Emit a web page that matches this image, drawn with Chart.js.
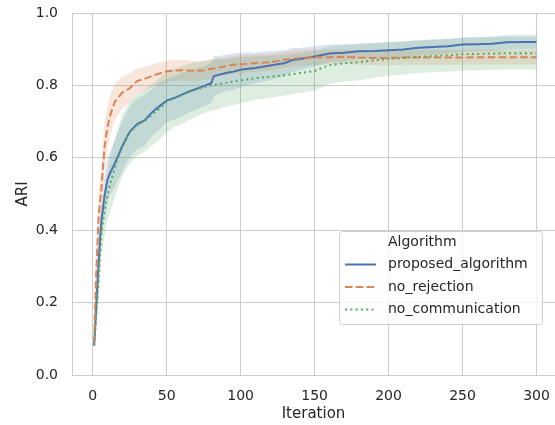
<!DOCTYPE html>
<html lang="en">
<head>
    <meta charset="UTF-8">
    <title>ARI per Iteration</title>
    <script src="https://cdn.jsdelivr.net/npm/chart.js"></script>
    <style>
        html, body { margin: 0; padding: 0; background: #fff; overflow: hidden; }
        canvas { display: block; }
    </style>
</head>
<body>
    <canvas id="ariChart" width="555" height="425"></canvas>

    <script>
        // Iterations sampled from the plot
        const iterations = [1,2,3,4,5,6,8,10,12,15,20,25,30,35,40,45,50,55,60,65,70,75,80,82,85,90,95,100,105,110,120,130,135,140,150,160,170,180,190,200,210,220,230,240,250,260,270,280,290,300];

        // mean ARI per algorithm
        const proposedMean = [0.083,0.16,0.24,0.31,0.38,0.43,0.495,0.54,0.56,0.585,0.632,0.672,0.693,0.703,0.725,0.742,0.758,0.765,0.774,0.783,0.79,0.798,0.806,0.826,0.829,0.834,0.838,0.843,0.846,0.848,0.855,0.862,0.87,0.873,0.88,0.888,0.89,0.894,0.895,0.897,0.899,0.904,0.906,0.908,0.913,0.914,0.915,0.919,0.92,0.92];
        const noRejectionMean = [0.09,0.24,0.34,0.44,0.48,0.52,0.63,0.686,0.72,0.755,0.78,0.792,0.812,0.818,0.826,0.833,0.839,0.841,0.842,0.841,0.84,0.842,0.846,0.847,0.849,0.853,0.857,0.858,0.86,0.862,0.864,0.871,0.874,0.876,0.878,0.878,0.879,0.877,0.876,0.876,0.877,0.877,0.877,0.877,0.877,0.878,0.878,0.878,0.878,0.878];
        const noCommunicationMean = [0.08,0.14,0.2,0.26,0.33,0.395,0.45,0.495,0.53,0.572,0.635,0.67,0.69,0.702,0.718,0.735,0.755,0.765,0.773,0.782,0.789,0.795,0.8,0.801,0.803,0.807,0.811,0.814,0.817,0.82,0.824,0.828,0.831,0.834,0.84,0.856,0.861,0.864,0.869,0.873,0.876,0.879,0.881,0.883,0.886,0.887,0.888,0.889,0.889,0.889];

        // half width of the confidence band
        const proposedCi = [0.01,0.03,0.04,0.045,0.05,0.05,0.055,0.06,0.06,0.065,0.07,0.07,0.07,0.07,0.065,0.065,0.06,0.06,0.06,0.058,0.057,0.055,0.055,0.055,0.052,0.05,0.05,0.048,0.045,0.042,0.04,0.035,0.033,0.03,0.028,0.025,0.024,0.022,0.022,0.022,0.022,0.021,0.021,0.02,0.02,0.02,0.02,0.02,0.02,0.02];
        const noRejectionCi = [0.01,0.05,0.06,0.07,0.07,0.07,0.065,0.06,0.055,0.05,0.045,0.04,0.035,0.033,0.032,0.03,0.03,0.029,0.028,0.028,0.027,0.027,0.026,0.026,0.026,0.025,0.025,0.025,0.024,0.024,0.023,0.022,0.022,0.022,0.021,0.02,0.02,0.02,0.02,0.02,0.02,0.02,0.02,0.02,0.02,0.02,0.02,0.02,0.02,0.02];
        const noCommunicationCi = [0.01,0.03,0.04,0.05,0.055,0.06,0.065,0.07,0.075,0.08,0.085,0.085,0.085,0.085,0.085,0.085,0.085,0.08,0.08,0.078,0.075,0.072,0.07,0.07,0.068,0.066,0.065,0.064,0.062,0.06,0.058,0.056,0.055,0.055,0.055,0.052,0.05,0.05,0.048,0.046,0.046,0.045,0.045,0.045,0.045,0.045,0.045,0.045,0.045,0.045];

        const xTicks = [0, 50, 100, 150, 200, 250, 300];
        const yTicks = [0, 0.2, 0.4, 0.6, 0.8, 1.0];

        const series = [
            { name: 'proposed_algorithm', mean: proposedMean, ci: proposedCi, color: '#4c72b0', rgb: '76,114,176', dash: [] },
            { name: 'no_rejection', mean: noRejectionMean, ci: noRejectionCi, color: '#dd8452', rgb: '221,132,82', dash: [7.5, 3.3] },
            { name: 'no_communication', mean: noCommunicationMean, ci: noCommunicationCi, color: '#55a868', rgb: '85,168,104', dash: [2, 3.3] }
        ];

        const toPoints = arr => arr.map((y, i) => ({ x: iterations[i], y: y }));

        const datasets = [];
        // lines (later series drawn on top)
        series.forEach((s, i) => {
            datasets.push({
                label: s.name,
                data: toPoints(s.mean),
                borderColor: s.color,
                borderWidth: 2,
                borderDash: s.dash,
                pointRadius: 0,
                fill: false,
                tension: 0,
                order: 2 - i
            });
        });
        // confidence bands
        series.forEach((s, i) => {
            const lowerIndex = datasets.length;
            datasets.push({
                label: s.name + ' lower',
                data: toPoints(s.mean.map((m, k) => m - s.ci[k])),
                borderWidth: 0,
                pointRadius: 0,
                fill: false,
                order: 5 - i
            });
            datasets.push({
                label: s.name + ' upper',
                data: toPoints(s.mean.map((m, k) => m + s.ci[k])),
                borderWidth: 0,
                pointRadius: 0,
                fill: lowerIndex,
                backgroundColor: 'rgba(' + s.rgb + ',0.2)',
                order: 5 - i
            });
        });

        // legend box inside the plot, seaborn style
        const boxLegend = {
            id: 'boxLegend',
            afterDraw(chart) {
                const ctx = chart.ctx;
                ctx.save();
                ctx.beginPath();
                ctx.roundRect(339.5, 231.5, 203, 93, 3);
                ctx.fillStyle = 'rgba(255,255,255,0.8)';
                ctx.fill();
                ctx.strokeStyle = '#d0d0d0';
                ctx.lineWidth = 1;
                ctx.stroke();

                ctx.font = '14px "DejaVu Sans"';
                ctx.fillStyle = '#262626';
                ctx.textBaseline = 'middle';
                ctx.fillText('Algorithm', 388, 242.5);
                series.forEach((s, i) => {
                    const y = 264.5 + i * 22.5;
                    ctx.beginPath();
                    ctx.setLineDash(s.dash);
                    ctx.strokeStyle = s.color;
                    ctx.lineWidth = 2;
                    ctx.moveTo(345, y);
                    ctx.lineTo(376, y);
                    ctx.stroke();
                    ctx.setLineDash([]);
                    ctx.fillText(s.name, 388, y);
                });
                ctx.restore();
            }
        };

        Chart.defaults.font.family = '"DejaVu Sans", sans-serif';
        Chart.defaults.color = '#262626';

        new Chart(document.getElementById('ariChart'), {
            type: 'line',
            data: { datasets: datasets },
            options: {
                responsive: false,
                animation: false,
                events: [],
                layout: { padding: { top: 13, right: 0, left: 0, bottom: 0 } },
                plugins: {
                    legend: { display: false },
                    tooltip: { enabled: false }
                },
                scales: {
                    x: {
                        type: 'linear',
                        min: -14,
                        max: 312.5,
                        afterBuildTicks: scale => { scale.ticks = xTicks.map(v => ({ value: v })); },
                        afterFit: scale => { scale.height = 50; scale.paddingLeft = 0; scale.paddingRight = 0; },
                        grid: { color: '#cccccc', lineWidth: 1, drawTicks: false },
                        border: { color: '#cccccc', width: 1 },
                        ticks: { font: { size: 14 }, padding: 13, maxRotation: 0 },
                        title: { display: true, text: 'Iteration', font: { size: 15 }, padding: { top: 0, bottom: 2 } }
                    },
                    y: {
                        min: 0,
                        max: 1.0,
                        afterBuildTicks: scale => { scale.ticks = yTicks.map(v => ({ value: v })); },
                        afterFit: scale => { scale.width = 72; scale.paddingTop = 0; scale.paddingBottom = 0; },
                        grid: { color: '#cccccc', lineWidth: 1, drawTicks: false },
                        border: { color: '#cccccc', width: 1 },
                        ticks: { font: { size: 14 }, padding: 14, callback: v => v.toFixed(1) },
                        title: { display: true, text: 'ARI', font: { size: 15 }, padding: { top: 14, bottom: 0 } }
                    }
                }
            },
            plugins: [boxLegend]
        });
    </script>
</body>
</html>
